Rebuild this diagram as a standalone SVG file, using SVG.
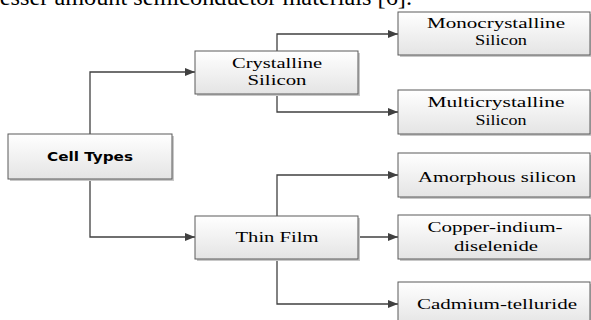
<svg xmlns="http://www.w3.org/2000/svg" width="591" height="320" viewBox="0 0 591 320">
<defs>
<linearGradient id="g" x1="0" y1="0" x2="0" y2="1">
<stop offset="0" stop-color="#ffffff"/>
<stop offset="1" stop-color="#e4e4e4"/>
</linearGradient>
<marker id="ah" markerWidth="10" markerHeight="8" refX="10" refY="4" orient="auto" markerUnits="userSpaceOnUse">
<path d="M0,0 L10,4 L0,8 Z" fill="#404040"/>
</marker>
</defs>
<style>
.box{fill:url(#g);stroke:#5a5a5a;stroke-width:1}
.sh{fill:#c8c8c8}
.t{font-family:"Liberation Serif","Times New Roman",serif;font-size:14.5px;fill:#000;text-anchor:middle}
.t2{font-family:"Liberation Serif","Times New Roman",serif;font-size:15.5px;fill:#000;text-anchor:middle}
.b{font-family:"DejaVu Sans",Verdana,sans-serif;font-weight:bold;font-size:12.5px;fill:#000;text-anchor:middle}
.c{fill:none;stroke:#404040;stroke-width:1.3;marker-end:url(#ah)}
</style>
<rect width="591" height="320" fill="#fff"/>
<text x="-7" y="5" font-family="Liberation Serif,serif" font-size="23" fill="#000" textLength="419" lengthAdjust="spacingAndGlyphs">lesser amount semiconductor materials [6].</text>
<g id="connectors">
<path class="c" d="M90,134 V72 H195"/>
<path class="c" d="M90,179 V237 H195"/>
<path class="c" d="M277,51 V34 H398"/>
<path class="c" d="M277,94 V112 H398"/>
<path class="c" d="M277,216 V175 H398"/>
<path class="c" d="M358,237 H398"/>
<path class="c" d="M277,259 V304 H398"/>
</g>
<g id="cell-types">
<rect class="sh" x="10" y="136" width="164" height="45"/>
<rect class="box" x="8" y="134" width="164" height="45"/>
<text class="b" x="90" y="161" textLength="86" lengthAdjust="spacingAndGlyphs">Cell Types</text>
</g>
<g id="crystalline-silicon">
<rect class="sh" x="197" y="53" width="163" height="43"/>
<rect class="box" x="195" y="51" width="163" height="43"/>
<text class="t2" x="277" y="68" textLength="90" lengthAdjust="spacingAndGlyphs">Crystalline</text>
<text class="t2" x="277" y="85" textLength="59" lengthAdjust="spacingAndGlyphs">Silicon</text>
</g>
<g id="thin-film">
<rect class="sh" x="197" y="218" width="163" height="43"/>
<rect class="box" x="195" y="216" width="163" height="43"/>
<text class="t2" x="277" y="242" textLength="83" lengthAdjust="spacingAndGlyphs">Thin Film</text>
</g>
<g id="monocrystalline">
<rect class="sh" x="400" y="14" width="192" height="43"/>
<rect class="box" x="398" y="12" width="192" height="43"/>
<text class="t" x="496" y="28" textLength="138" lengthAdjust="spacingAndGlyphs">Monocrystalline</text>
<text class="t" x="501" y="45" textLength="52" lengthAdjust="spacingAndGlyphs">Silicon</text>
</g>
<g id="multicrystalline">
<rect class="sh" x="400" y="92" width="192" height="44"/>
<rect class="box" x="398" y="90" width="192" height="44"/>
<text class="t" x="496" y="107" textLength="137" lengthAdjust="spacingAndGlyphs">Multicrystalline</text>
<text class="t" x="501" y="125" textLength="51" lengthAdjust="spacingAndGlyphs">Silicon</text>
</g>
<g id="amorphous">
<rect class="sh" x="400" y="155" width="192" height="44"/>
<rect class="box" x="398" y="153" width="192" height="44"/>
<text class="t" x="497" y="182" textLength="158" lengthAdjust="spacingAndGlyphs">Amorphous silicon</text>
</g>
<g id="copper">
<rect class="sh" x="400" y="217" width="192" height="44"/>
<rect class="box" x="398" y="215" width="192" height="44"/>
<text class="t" x="495" y="232" textLength="135" lengthAdjust="spacingAndGlyphs">Copper-indium-</text>
<text class="t" x="496" y="251" textLength="84" lengthAdjust="spacingAndGlyphs">diselenide</text>
</g>
<g id="cadmium">
<rect class="sh" x="400" y="284" width="192" height="44"/>
<rect class="box" x="398" y="282" width="192" height="44"/>
<text class="t" x="497" y="309" textLength="160" lengthAdjust="spacingAndGlyphs">Cadmium-telluride</text>
</g>
</svg>
